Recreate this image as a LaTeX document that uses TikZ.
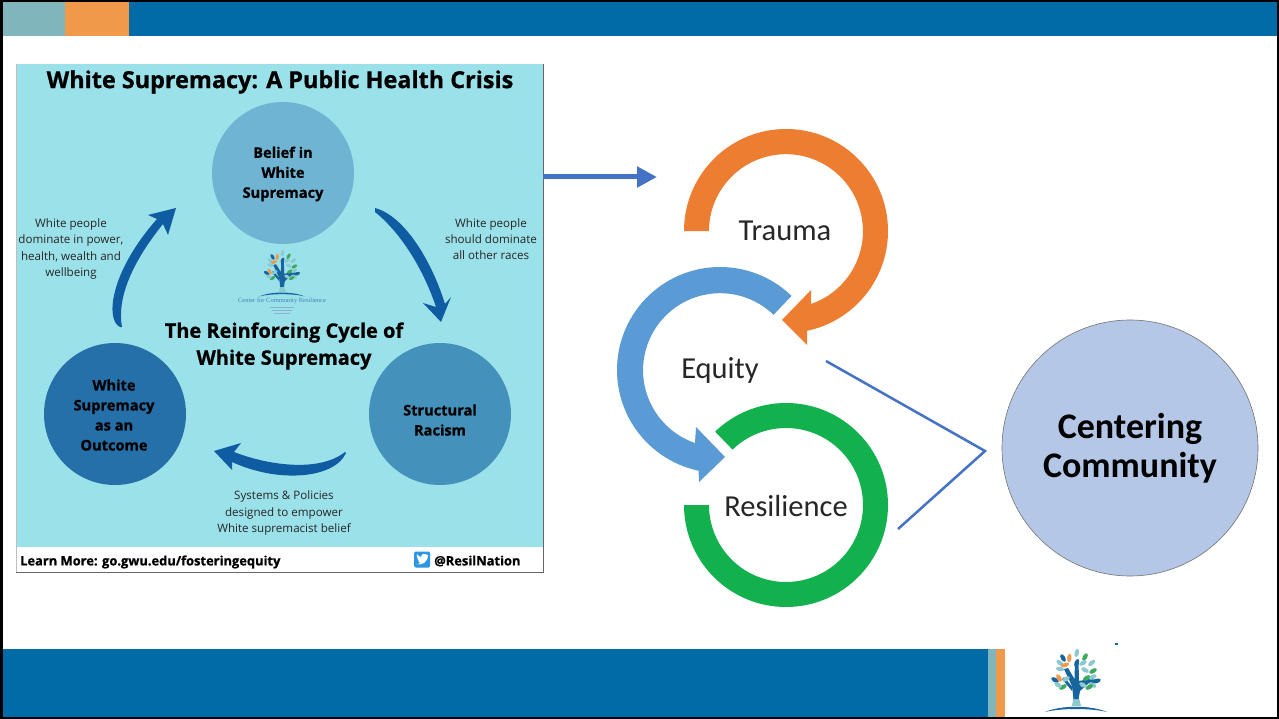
\documentclass[tikz,border=0pt]{standalone}
\usepackage{fontspec}
\setmainfont{Carlito}
\newfontfamily\posterfont[BoldFeatures={FakeBold=0.8}]{Open Sans}
\usetikzlibrary{arrows.meta}
\definecolor{bandblue}{HTML}{006BA6}
\definecolor{bandteal}{HTML}{7FB5BB}
\definecolor{bandorange}{HTML}{F0994A}
\definecolor{posterbg}{HTML}{9BE1E9}
\definecolor{cyclearrow}{HTML}{0F5CA3}
\definecolor{linkblue}{HTML}{4472C4}
\definecolor{traumaring}{HTML}{ED7D31}
\definecolor{equityring}{HTML}{5B9BD5}
\definecolor{resilring}{HTML}{12B14D}
\definecolor{logolight}{HTML}{8CC9CF}
\definecolor{logogreen}{HTML}{3DA860}
\definecolor{logodark}{HTML}{17649F}
\tikzset{
    stage/.style={circle,minimum size=142pt,inner sep=0pt},
    stagetext/.style={align=center,text=black,font=\posterfont\bfseries\fontsize{14.6}{20}\selectfont},
    caption/.style={align=center,text=black!85,font=\posterfont\fontsize{11.6}{16.3}\selectfont},
    headline/.style={align=center,text=black,font=\posterfont\bfseries\fontsize{20}{27}\selectfont},
    ringlabel/.style={text=black!85,font=\fontsize{30.5}{32}\selectfont},
    footer/.style={anchor=west,inner sep=0pt,text=black,font=\posterfont\bfseries\fontsize{12.9}{15}\selectfont},
    link/.style={linkblue,line width=2.5pt},
    leaf/.style={fill=#1,draw=none},
    tree/.pic={
        \fill[logodark] (-31,6) .. controls (-15,-1) and (15,-1) .. (31,6) .. controls (15,2) and (-15,2) .. (-31,6) -- cycle;
        \fill[logolight] (-4,0) -- (-2,-12) -- (2,-12) -- (5,0) -- cycle;
        \fill[logodark] (-2.5,-7) -- (-4,-20) -- (-12,-37) -- (-8,-38) -- (-1.5,-27) -- (-1,-45) -- (2.5,-45) -- (3,-25) -- (13,-27) -- (21,-26.5) -- (21,-23.5) -- (13,-23) -- (4,-15) -- (2.5,-7) -- cycle;
        \fill[logodark] (-3.5,-19) -- (-12,-29) -- (-14,-27) -- (-4,-15) -- cycle;
        \foreach \lx/\ly/\la/\lc in {0.7/-53/80/logolight,9/-49/60/logogreen,-6.7/-48/85/bandorange,-13/-48/120/logodark,-16/-43/140/logolight,-11/-41/20/bandorange,0.7/-43/70/logodark,7/-43/30/logolight,15.7/-43/40/logolight,17/-35/30/logogreen,9/-36/150/logolight,-16/-37/170/logolight,-21/-26/150/logodark,-17/-28/120/bandorange,-10/-27/30/logolight,-13/-19/30/logogreen,-18/-21/150/logolight,10.7/-28/30/logogreen,20.7/-25/20/logodark,16.7/-29/30/logolight,16.7/-21/150/logolight,13.3/-19/30/logogreen,7/-21/150/logolight}
            \fill[leaf=\lc,rotate around={\la:(\lx,\ly)}] (\lx,\ly) ellipse[x radius=4.2pt,y radius=2.2pt];
    }
}
\begin{document}
\begin{tikzpicture}[x=1pt,y=-1pt]
    \useasboundingbox (0,0) rectangle (1279,719);
    \fill[white] (0,0) rectangle (1279,719);

    % Top and bottom bands
    \fill[bandblue] (129,0) rectangle (1279,36);
    \fill[bandteal] (0,0) rectangle (65,36);
    \fill[bandorange] (65,0) rectangle (129,36);
    \fill[bandblue] (0,649) rectangle (988,719);
    \fill[bandteal] (988,649) rectangle (996,719);
    \fill[bandorange] (996,649) rectangle (1005,719);
    \fill[logodark] (1115,643) rectangle (1118,645);
    \pic at (1076,706) {tree};
    \draw[black,line width=3pt] (1,1) rectangle (1278,718);

    % Poster
    \fill[posterbg] (16,64) rectangle (543,547);
    \draw[black!60,line width=1pt] (543,64) -- (543,572) -- (16,572);
    \draw[black!25,line width=0.6pt] (16,572) -- (16,64);
    \node[headline,font=\posterfont\bfseries\fontsize{23.4}{27}\selectfont] (title) at (280,82) {White Supremacy: A Public Health Crisis};
    \node[stage,fill={rgb,255:red,111;green,181;blue,211}] (belief) at (283,173) {};
    \node[stage,fill={rgb,255:red,68;green,146;blue,188}] (structural) at (440,414) {};
    \node[stage,fill={rgb,255:red,37;green,112;blue,168}] (outcome) at (115,414) {};
    \node[stagetext] (belieftext) at (283,174) {Belief in\\White\\Supremacy};
    \node[stagetext] (structuraltext) at (440,420) {Structural\\Racism};
    \node[stagetext] (outcometext) at (114,415) {White\\Supremacy\\as an\\Outcome};
    \node[headline] (cycle) at (284,346) {The Reinforcing Cycle of\\White Supremacy};
    \node[caption] (capleft) at (71,249) {White people\\dominate in power,\\health, wealth and\\wellbeing};
    \node[caption] (capright) at (491,239) {White people\\should dominate\\all other races};
    \node[caption] (capbottom) at (284,513) {Systems \& Policies\\designed to empower\\White supremacist belief};

    % Cycle arrows
    \fill[cyclearrow] (375,208) .. controls (405,216) and (432,262) .. (445,304) -- (451,297) -- (441,322) -- (423,303) -- (436,307) .. controls (423,268) and (400,232) .. (375,212) -- cycle;
    \fill[cyclearrow] (346,453) .. controls (335,478) and (280,484) .. (232,462) -- (232,470) -- (214,451) -- (241,443) -- (234,452) .. controls (270,466) and (320,472) .. (345,452) -- cycle;
    \fill[cyclearrow] (120,327) .. controls (105,320) and (110,272) .. (157,219) -- (148,215) -- (176,208) -- (168,235) -- (163,224) .. controls (130,265) and (117,300) .. (122,327) -- cycle;

    % Small logo
    \pic[scale=0.73] at (282,292) {tree};
    \node[text=logodark!80,inner sep=0pt] (logoname) at (282,301) {\setmainfont{Liberation Serif}\fontsize{6.5}{7}\selectfont Center for Community Resilience};
    \foreach \ly/\lw in {307/12,310/10,313/8}
        \draw[logodark!50,line width=0.5pt] (282-\lw,\ly) -- (282+\lw,\ly);

    % Poster footer
    \node[footer] (learn) at (20,562) {Learn More: go.gwu.edu/fosteringequity};
    \node[footer] (handle) at (434,561) {@ResilNation};
    \node[fill={rgb,255:red,43;green,150;blue,225},rounded corners=1.5pt,minimum size=16pt,inner sep=0pt] (bird) at (422,559.5) {};
    \fill[white] (416,564) .. controls (422,566) and (428,562) .. (428,555) -- (425,554) .. controls (423,553) and (421,555) .. (421,557) .. controls (419,557) and (418,555) .. (417,554) .. controls (416,556) and (417,558) .. (418,559) .. controls (418,561) and (419,562) .. (420,563) .. controls (419,564) and (417,564) .. (416,564) -- cycle;

    % Rings
    \coordinate (tc) at (786,231);
    \coordinate (ec) at (720,370);
    \coordinate (rc) at (786,505);
    \fill[traumaring] (tc) ++(180:102pt) arc[start angle=180,end angle=-78,radius=102pt] -- (807,345) -- (782,320) -- (811,290) -- (811,304) arc[start angle=-71,end angle=180,radius=77pt] -- cycle;
    \fill[equityring] (ec) ++(46:103pt) arc[start angle=46,end angle=258,radius=103pt] -- (699,482) -- (725,457) -- (696,427) -- (695,443) arc[start angle=251,end angle=46,radius=77pt] -- cycle;
    \fill[resilring] (rc) ++(180:102pt) arc[start angle=180,end angle=494,radius=102pt] -- ++(134:-25pt) arc[start angle=494,end angle=180,radius=77pt] -- cycle;
    \node[ringlabel] (trauma) at (785,231) {Trauma};
    \node[ringlabel] (equity) at (720,370) {Equity};
    \node[ringlabel] (resilience) at (786,506) {Resilience};

    % Centering circle and links
    \node[circle,minimum size=256pt,inner sep=0pt,fill={rgb,255:red,180;green,199;blue,231},draw=black!55,line width=0.6pt,align=center,text=black,font=\bfseries\fontsize{36}{38.5}\selectfont] (centering) at (1130,448) {Centering\\Community};
    \coordinate (posterout) at (543,177);
    \coordinate (ringsin) at (657,177);
    \coordinate (apex) at (985,451);
    \coordinate (equityout) at (826,361);
    \coordinate (resilout) at (898,529);
    \draw[linkblue,line width=5pt,-{Triangle[length=20pt,width=20pt]}] (posterout) -- (ringsin);
    \draw[link] (equityout) -- (apex) -- (resilout);
\end{tikzpicture}
\end{document}
